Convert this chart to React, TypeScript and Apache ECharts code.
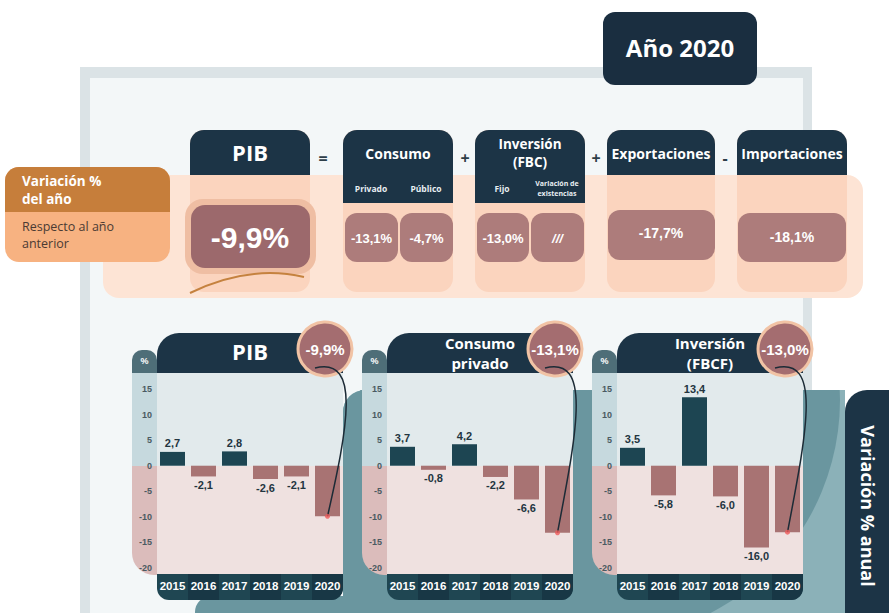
import React, { useEffect, useRef } from 'react';
import * as echarts from 'echarts';

// ---------- data ----------
const years = ['2015', '2016', '2017', '2018', '2019', '2020'];
const pibValues = [2.7, -2.1, 2.8, -2.6, -2.1, -9.9];
const consumoPrivadoValues = [3.7, -0.8, 4.2, -2.2, -6.6, -13.1];
const inversionValues = [3.5, -5.8, 13.4, -6.0, -16.0, -13.0];
const yMin = -20;
const yMax = 15;
const yInterval = 5;

const panelTitles = [['PIB'], ['Consumo', 'privado'], ['Inversión', '(FBCF)']];
const panelBadges = ['-9,9%', '-13,1%', '-13,0%'];

const topTitle = 'Año 2020';
const topHeaders = [['PIB'], ['Consumo'], ['Inversión', '(FBC)'], ['Exportaciones'], ['Importaciones']];
const topSubheaders = ['Privado', 'Público', 'Fijo', 'Variación de', 'existencias'];
const topOperators = ['=', '+', '+', '-'];
const pibLabel = '-9,9%';
const componentLabels = ['-13,1%', '-4,7%', '-13,0%', '///'];
const tradeLabels = ['-17,7%', '-18,1%'];
const sideLabelTop = ['Variación %', 'del año'];
const sideLabelBottom = ['Respecto al año', 'anterior'];
const sideTitle = 'Variación % anual';

const SANS = '"Open Sans", "Noto Sans", sans-serif';
const ARIAL = '"Liberation Sans", Arial, sans-serif';

const NAVY = '#1c3446';
const POS = '#1d4552';
const NEG = '#a87373';
const TEAL = '#6a969f';
const TEAL_LIGHT = '#8bb1b8';

const fmt = (v: number) => v.toFixed(1).replace('.', ',');

const rect = (x: number, y: number, w: number, h: number, fill: string, r: any = 0, z = 0) => ({
  type: 'rect', silent: true, z,
  shape: { x, y, width: w, height: h, r },
  style: { fill },
});
const text = (x: number, y: number, t: string, font: string, fill: string, align = 'center', z = 0, extra: any = {}) => ({
  type: 'text', silent: true, z, x, y, ...extra,
  style: { text: t, font, fill, textAlign: align, align, textVerticalAlign: 'middle', verticalAlign: 'middle' },
});

const panelX = [157, 387, 617];
const panelValues = [pibValues, consumoPrivadoValues, inversionValues];

function buildStatic(): any[] {
  const g: any[] = [];
  // frame
  g.push(rect(80, 67, 732, 560, '#dbe3e6'));
  g.push(rect(90, 78, 713, 560, '#f3f7f8'));
  // teal background
  g.push(rect(343, 390, 502, 223, TEAL_LIGHT, [22, 0, 0, 0]));
  g.push({ type: 'circle', silent: true, z: 0, shape: { cx: 600, cy: 400, r: 240 }, style: { fill: TEAL } });
  g.push(rect(343, 390, 262, 223, TEAL, [22, 0, 0, 0]));
  g.push(rect(195, 596, 200, 20, TEAL, [16, 0, 0, 0]));
  // covers above the teal
  g.push(rect(343, 150, 460, 240, '#f3f7f8'));
  g.push(rect(803, 150, 9, 240, '#dbe3e6'));
  g.push(rect(812, 150, 77, 240, '#ffffff'));
  // side navy box
  g.push(rect(845, 390, 60, 240, NAVY, [22, 0, 0, 0]));
  g.push(text(868, 506, sideTitle, `bold 18px ${SANS}`, '#ffffff', 'center', 0, { rotation: -Math.PI / 2 }));

  // Año 2020
  g.push(rect(603, 12, 154, 73, '#1a2e40', 12));
  g.push(text(680, 47, topTitle, `bold 24px ${SANS}`, '#ffffff'));

  // peach band
  g.push(rect(103, 175, 760, 123, '#fde4d5', 16));
  // side label
  g.push(rect(5, 167, 165, 95, '#f7b281', 14));
  g.push(rect(5, 167, 165, 45, '#c67e3b', [14, 14, 0, 0]));
  g.push(text(22, 181, sideLabelTop[0], `bold 13.5px ${SANS}`, '#ffffff', 'left'));
  g.push(text(22, 199, sideLabelTop[1], `bold 13.5px ${SANS}`, '#ffffff', 'left'));
  g.push(text(22, 226, sideLabelBottom[0], `12.5px ${SANS}`, '#4b3b33', 'left'));
  g.push(text(22, 243, sideLabelBottom[1], `12.5px ${SANS}`, '#4b3b33', 'left'));

  // columns
  const cols = [
    { x: 190, w: 120, hh: 45 },
    { x: 343, w: 110, hh: 73 },
    { x: 475, w: 110, hh: 73 },
    { x: 607, w: 108, hh: 45 },
    { x: 737, w: 110, hh: 45 },
  ];
  cols.forEach((c, i) => {
    g.push(rect(c.x, 130, c.w, 162, '#fbd4be', 14));
    g.push(rect(c.x, 130, c.w, c.hh, NAVY, [14, 14, 0, 0]));
    const lines = topHeaders[i];
    const cx = c.x + c.w / 2;
    if (i === 0) {
      g.push(text(cx, 152, lines[0], `bold 22px ${SANS}`, '#ffffff'));
    } else if (lines.length === 1) {
      g.push(text(cx, 153, lines[0], `bold 14px ${SANS}`, '#ffffff'));
    } else {
      g.push(text(cx, 144, lines[0], `bold 13.5px ${SANS}`, '#ffffff'));
      g.push(text(cx, 162, lines[1], `bold 13.5px ${SANS}`, '#ffffff'));
    }
  });
  // subheaders
  g.push(text(371, 188, topSubheaders[0], `bold 8.5px ${SANS}`, '#e8eef2'));
  g.push(text(426, 188, topSubheaders[1], `bold 8.5px ${SANS}`, '#e8eef2'));
  g.push(text(502, 188, topSubheaders[2], `bold 8.5px ${SANS}`, '#e8eef2'));
  g.push(text(557, 183, topSubheaders[3], `bold 7px ${SANS}`, '#e8eef2'));
  g.push(text(557, 193, topSubheaders[4], `bold 7px ${SANS}`, '#e8eef2'));
  // operators
  const opX = [323, 465, 596, 725];
  topOperators.forEach((o, i) => g.push(text(opX[i], 158, o, `bold 16px ${SANS}`, '#2d3e48')));

  // value boxes
  g.push(rect(185, 199, 131, 75, '#efbea3', 18));
  g.push(rect(191, 205, 119, 63, '#9c696c', 14));
  g.push(text(250, 237, pibLabel, `bold 30px ${ARIAL}`, '#ffffff'));
  const smallX = [345, 400, 477, 531];
  const smallW = [53, 53, 52, 53];
  componentLabels.forEach((l, i) => {
    g.push(rect(smallX[i], 213, smallW[i], 49, '#ad7c7b', 12));
    g.push(text(smallX[i] + smallW[i] / 2, 238, l, `${i === 3 ? 'italic ' : ''}bold 13px ${ARIAL}`, '#ffffff'));
  });
  g.push(rect(608, 210, 107, 50, '#ad7c7b', 12));
  g.push(text(661, 233, tradeLabels[0], `bold 14px ${ARIAL}`, '#ffffff'));
  g.push(rect(738, 213, 108, 49, '#ad7c7b', 12));
  g.push(text(792, 237, tradeLabels[1], `bold 14px ${ARIAL}`, '#ffffff'));
  // swoosh
  g.push({
    type: 'bezierCurve', silent: true, z: 0,
    shape: { x1: 190, y1: 293, cpx1: 225, cpy1: 276, cpx2: 265, cpy2: 268, x2: 304, y2: 277 },
    style: { stroke: '#c5823f', lineWidth: 2, fill: 'none' },
  });

  // panels backgrounds
  panelX.forEach((px, i) => {
    g.push(rect(px - 25, 350, 25, 35, '#4e6e78', [10, 10, 0, 0]));
    g.push(text(px - 12.5, 361, '%', `bold 9px ${ARIAL}`, '#ffffff'));
    g.push(rect(px - 25, 373, 40, 94, '#c6d9de'));
    g.push(rect(px - 25, 466, 40, 109, '#dbbcbb', [0, 0, 0, 22]));
    g.push(rect(px, 373, 186, 94, '#e2eaec'));
    g.push(rect(px, 466, 186, 109, '#efe1e0'));
    g.push(rect(px, 333, 186, 40, NAVY, [22, 22, 0, 0]));
    g.push(rect(px, 574, 186, 26, '#1f4652', [0, 0, 12, 12]));
    [1, 3, 5].forEach((k) => {
      g.push(rect(px + 31 * k, 574, 31, 26, '#183745', k === 5 ? [0, 0, 12, 0] : 0));
    });
    const t = panelTitles[i];
    if (t.length === 1) {
      g.push(text(px + 93, 351, t[0], `bold 22px ${SANS}`, '#ffffff'));
    } else {
      g.push(text(px + 93, 343, t[0], `bold 15px ${SANS}`, '#ffffff'));
      g.push(text(px + 93, 363, t[1], `bold 15px ${SANS}`, '#ffffff'));
    }
  });
  return g;
}

function buildOverlays(ends: number[][]): any[] {
  const g: any[] = [];
  panelX.forEach((px, i) => {
    const cx = px + 168;
    const cy = 349;
    g.push({ type: 'circle', silent: true, z: 10, shape: { cx, cy, r: 27 }, style: { fill: '#a46d70', stroke: '#f1c3a5', lineWidth: 3 } });
    g.push(text(cx, cy, panelBadges[i], `bold 15px ${ARIAL}`, '#ffffff', 'center', 11));
    const e = ends[i];
    g.push({
      type: 'bezierCurve', silent: true, z: 11,
      shape: { x1: px + 158, y1: 368, cpx1: px + 205, cpy1: 356, cpx2: px + 190, cpy2: 430, x2: e[0], y2: e[1] },
      style: { stroke: '#1c2b36', lineWidth: 1.5, fill: 'none' },
    });
  });
  return g;
}

export default function App() {
  const ref = useRef<HTMLDivElement>(null);
  useEffect(() => {
    if (!ref.current) return;
    const chart = echarts.init(ref.current, undefined, { renderer: 'svg' });
    const grids = panelX.map((px) => ({ left: px, top: 389, width: 186, height: 179, containLabel: false }));
    const xAxes = panelX.map((_, i) => ({
      type: 'category', gridIndex: i, data: years, z: 5,
      axisLine: { show: false, onZero: false }, axisTick: { show: false },
      axisLabel: { color: '#ffffff', fontWeight: 'bold', fontSize: 11.5, fontFamily: ARIAL, margin: 12, interval: 0 },
    }));
    const yAxes = panelX.map((_, i) => ({
      type: 'value', gridIndex: i, min: yMin, max: yMax, interval: yInterval, z: 5,
      splitLine: { show: false }, axisLine: { show: false }, axisTick: { show: false },
      axisLabel: { color: '#4b5a61', fontWeight: 'bold', fontSize: 9, fontFamily: ARIAL, margin: 5 },
    }));
    const series: any[] = [];
    panelValues.forEach((vals, i) => {
      series.push({
        type: 'bar', xAxisIndex: i, yAxisIndex: i, barWidth: 25, z: 2,
        data: vals.map((v, j) => ({
          value: v,
          itemStyle: { color: v >= 0 ? POS : NEG },
          label: { show: j < vals.length - 1, position: v >= 0 ? 'top' : 'bottom' },
        })),
        label: {
          distance: 3, color: '#23353f', fontWeight: 'bold', fontSize: 11, fontFamily: ARIAL,
          formatter: (p: any) => fmt(p.value),
        },
      });
      series.push({
        type: 'scatter', xAxisIndex: i, yAxisIndex: i, z: 12, symbolSize: 5,
        itemStyle: { color: '#ee5a5a' },
        data: [[years[years.length - 1], vals[vals.length - 1]]],
      });
    });
    const staticG = buildStatic();
    chart.setOption({ animation: false, grid: grids, xAxis: xAxes, yAxis: yAxes, series, graphic: staticG });
    const ends = panelValues.map((vals, i) =>
      chart.convertToPixel({ gridIndex: i } as any, [years[years.length - 1], vals[vals.length - 1]]) as number[]
    );
    chart.setOption({ graphic: [...staticG, ...buildOverlays(ends)] });
    return () => chart.dispose();
  }, []);
  return <div ref={ref} style={{ position: 'absolute', left: 0, top: 0, width: 889, height: 613, background: '#ffffff' }} />;
}
